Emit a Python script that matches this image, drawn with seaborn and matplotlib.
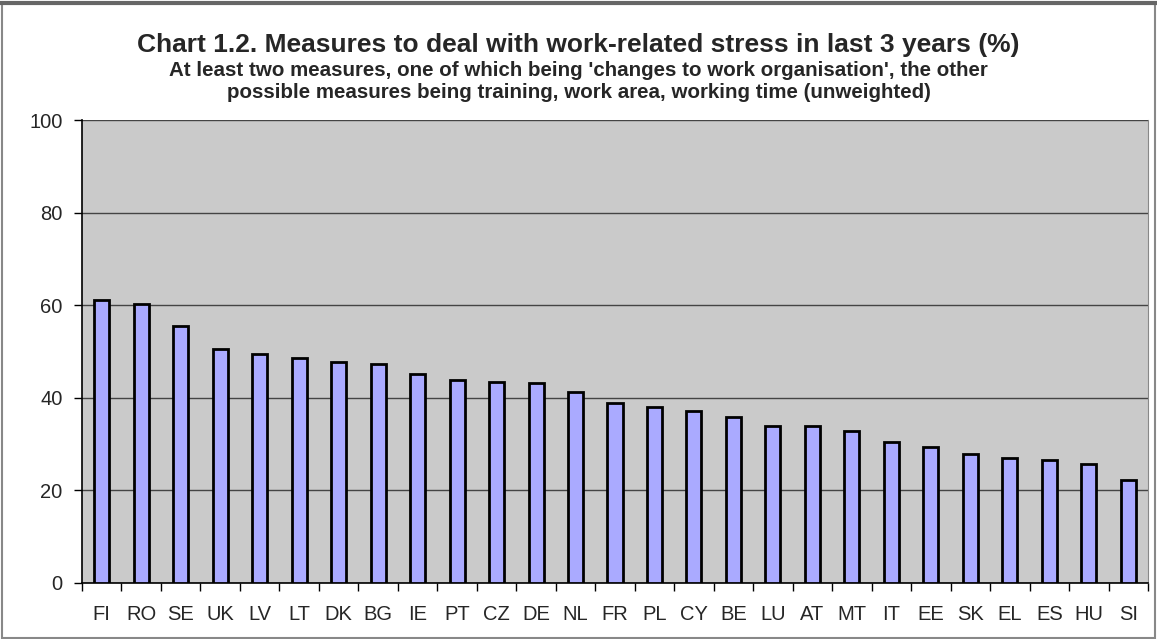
"""
Chart 1.2 - measures to deal with work-related stress (bar chart)
"""
import pandas as pd
import numpy as np
import matplotlib
matplotlib.use("Agg")
import matplotlib.pyplot as plt
import seaborn as sns

countries = ['FI', 'RO', 'SE', 'UK', 'LV', 'LT', 'DK', 'BG', 'IE', 'PT', 'CZ', 'DE', 'NL', 'FR',
             'PL', 'CY', 'BE', 'LU', 'AT', 'MT', 'IT', 'EE', 'SK', 'EL', 'ES', 'HU', 'SI']
values = [61.2, 60.3, 55.5, 50.5, 49.4, 48.6, 47.8, 47.2, 45.2, 43.8, 43.5, 43.2, 41.3, 38.9,
          38.0, 37.1, 35.8, 33.9, 33.9, 32.8, 30.5, 29.4, 27.8, 26.9, 26.6, 25.8, 22.2]
y_ticks = [0, 20, 40, 60, 80, 100]

title = "Chart 1.2. Measures to deal with work-related stress in last 3 years (%)"
subtitle = ("At least two measures, one of which being 'changes to work organisation', the other\n"
            "possible measures being training, work area, working time (unweighted)")

df = pd.DataFrame({'country': countries, 'value': values})

sns.set_style("white")
plt.rcParams['font.family'] = ['Liberation Sans', 'DejaVu Sans']

fig = plt.figure(figsize=(11.57, 6.39), dpi=100)
ax = fig.add_axes([82 / 1157, 1 - 583 / 639, (1148 - 82) / 1157, (583 - 120) / 639])

sns.barplot(data=df, x='country', y='value', ax=ax, color='#aaaaff', saturation=1,
            width=0.38, edgecolor='black', linewidth=2, zorder=3)

ax.set_facecolor('#cacaca')
ax.set_ylim(0, 100)
ax.set_xlim(-0.5, len(countries) - 0.5)
ax.set_yticks(y_ticks)
ax.yaxis.grid(True, color='#444444', linewidth=1, zorder=0)
ax.set_axisbelow(True)
ax.set_xlabel('')
ax.set_ylabel('')

# tick marks between categories like the spreadsheet original
ax.set_xticks(np.arange(len(countries)))
ax.set_xticklabels(countries)
ax.set_xticks(np.arange(len(countries) + 1) - 0.5, minor=True)
ax.tick_params(axis='x', which='major', bottom=False, length=0, labelsize=14.5, pad=16)
ax.tick_params(axis='x', which='minor', bottom=True, length=6, width=1, color='black',
               direction='out')
ax.tick_params(axis='y', left=True, length=6, width=1, color='black', direction='out',
               labelsize=14.5, pad=8)

for side in ['left', 'bottom']:
    ax.spines[side].set_color('black')
    ax.spines[side].set_linewidth(1.2)
ax.spines['top'].set_visible(False)
ax.spines['right'].set_color('#888888')

fig.text(0.5, 1 - 45 / 639, title, ha='center', va='center', fontsize=19, fontweight='bold')
fig.text(0.5, 1 - 81 / 639, subtitle, ha='center', va='center', fontsize=14.8,
         fontweight='bold', linespacing=1.2)

# frame around the chart, darker along the top
fig.patches.append(plt.Rectangle((0.002, 0.002), 0.996, 0.993, transform=fig.transFigure,
                                 fill=False, edgecolor='#888888', linewidth=1.5))
fig.add_artist(plt.Line2D([0, 1], [0.996, 0.996], transform=fig.transFigure,
                          color='#666666', linewidth=3))

fig.savefig('out.png', dpi=100)
plt.close(fig)
